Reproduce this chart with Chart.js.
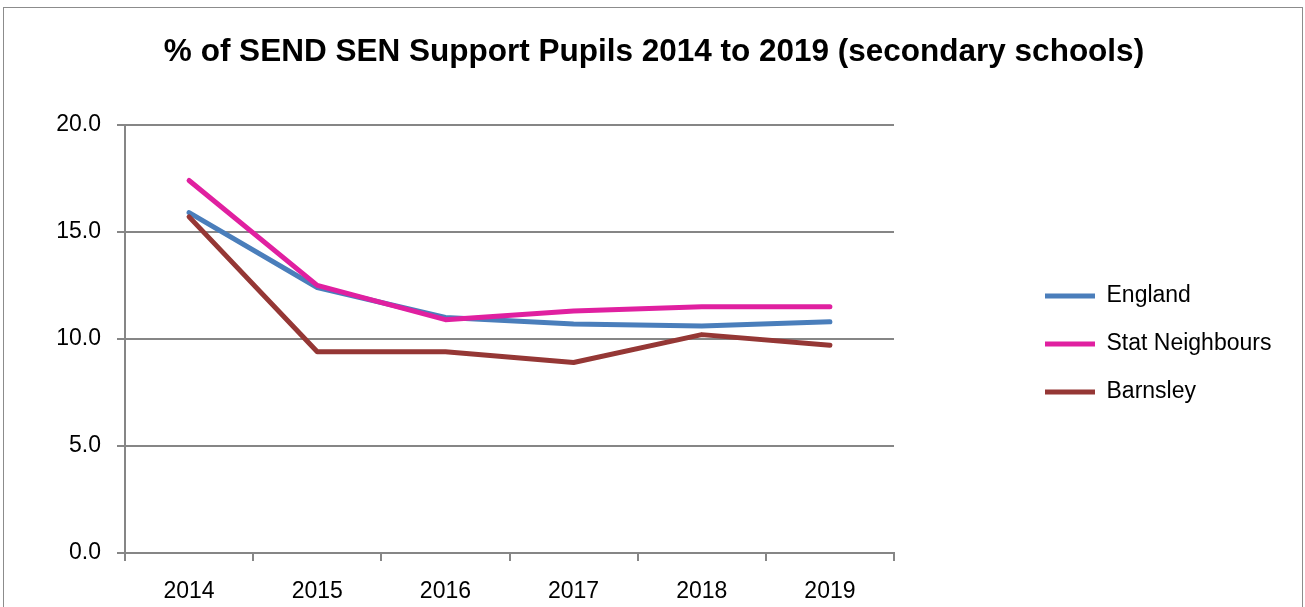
<!DOCTYPE html>
<html>
<head>
<meta charset="utf-8">
<script src="https://cdn.jsdelivr.net/npm/chart.js@4.4.1/dist/chart.umd.min.js"></script>
<style>
  html, body { margin: 0; padding: 0; background: #fff; overflow: hidden; }
  #wrap { position: relative; width: 1305px; height: 607px; }
  #frame { position: absolute; left: 3px; top: 7px; width: 1298px; height: 640px; border: 1.5px solid #8c8c8c; }
  #wrap canvas { position: absolute; left: 0; top: 0; }
</style>
</head>
<body>
<div id="wrap">
  <div id="frame"></div>
  <canvas id="lineChar"></canvas>
</div>
<script>
const years = ['2014', '2015', '2016', '2017', '2018', '2019'];
const england = [15.9, 12.4, 11.0, 10.7, 10.6, 10.8];
const statNeighbours = [17.4, 12.5, 10.9, 11.3, 11.5, 11.5];
const barnsley = [15.7, 9.4, 9.4, 8.9, 10.2, 9.7];

const FONT = "'Liberation Sans', Arial, sans-serif";
const GRID = '#868686';

function line(label, data, color, order) {
    return {
        label: label,
        data: data,
        borderColor: color,
        backgroundColor: color,
        borderWidth: 5,
        borderCapStyle: 'round',
        borderJoinStyle: 'round',
        pointRadius: 0,
        pointHoverRadius: 0,
        tension: 0,
        order: order,
    };
}

// title centred on the whole frame, legend nudged down a little
const nudge = {
    id: 'nudge',
    afterLayout(chart) {
        chart.titleBlock.left += 33;
        chart.legend.top += 5;
        chart.legend.bottom += 5;
    }
};

const ctx = document.getElementById('lineChar');

const lineConfig = {
    type: 'line',
    data: {
        labels: years,
        datasets: [
            line('England', england, '#4A7EBB', 3),
            line('Stat Neighbours', statNeighbours, '#E020A0', 2),
            line('Barnsley', barnsley, '#953735', 1),
        ]
    },
    plugins: [nudge],
    options: {
        responsive: false,
        animation: false,
        events: [],
        layout: { padding: { left: 3, right: 33, top: 0, bottom: 0 } },
        scales: {
            x: {
                offset: true,
                grid: { offset: true, drawOnChartArea: false, drawTicks: true, tickLength: 8, color: GRID, lineWidth: 2 },
                border: { display: true, color: GRID, width: 2 },
                ticks: { color: '#000', padding: 17, font: { family: FONT, size: 23 }, maxRotation: 0 },
                afterFit: (s) => { s.height = 54; }
            },
            y: {
                min: 0,
                max: 20,
                ticks: {
                    stepSize: 5,
                    color: '#000',
                    padding: 16,
                    font: { family: FONT, size: 23 },
                    callback: (v) => v.toFixed(1)
                },
                grid: { color: GRID, lineWidth: 2, tickLength: 8 },
                border: { display: true, color: GRID, width: 2 },
                afterFit: (s) => { s.width = 122; }
            },
            // empty right-hand axis, keeps the gap between the plot and the legend
            gap: {
                position: 'right',
                display: true,
                ticks: { display: false },
                grid: { display: false, drawTicks: false },
                border: { display: false },
                afterFit: (s) => { s.width = 126; }
            }
        },
        plugins: {
            legend: {
                position: 'right',
                align: 'center',
                fullSize: false,
                maxWidth: 252,
                labels: {
                    color: '#000',
                    font: { family: FONT, size: 23 },
                    boxWidth: 50,
                    boxHeight: 5,
                    padding: 25,
                    sort: (a, b) => a.datasetIndex - b.datasetIndex,
                    generateLabels: (chart) => {
                        const items = Chart.defaults.plugins.legend.labels.generateLabels(chart);
                        items.forEach((it) => {
                            it.fillStyle = it.strokeStyle;
                            it.lineWidth = 0;
                        });
                        return items;
                    }
                }
            },
            title: {
                display: true,
                text: '% of SEND SEN Support Pupils 2014 to 2019 (secondary schools)',
                color: '#000',
                font: { family: FONT, size: 31.5, weight: 'bold', lineHeight: 1.2 },
                padding: { top: 33, bottom: 54 }
            },
            tooltip: { enabled: false }
        }
    }
};

ctx.width = 1305;
ctx.height = 607;
const lineCha = new Chart(ctx, lineConfig);
</script>
</body>
</html>
